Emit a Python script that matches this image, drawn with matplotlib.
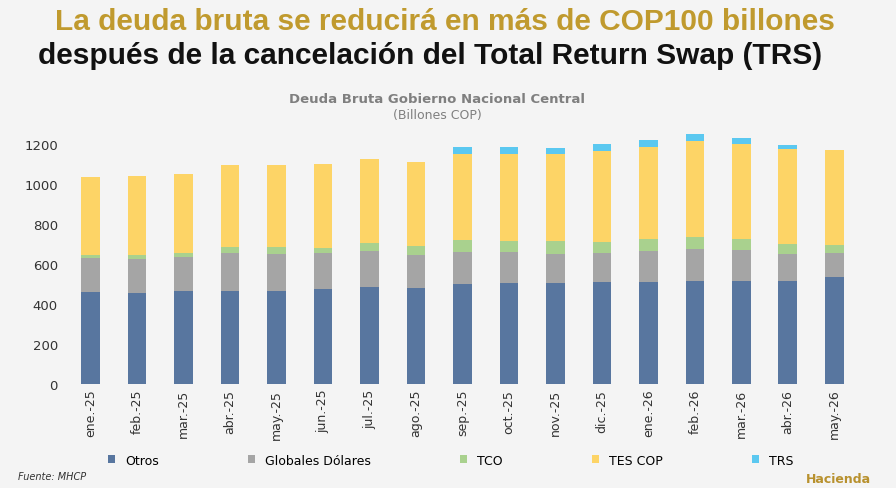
import matplotlib
matplotlib.use("Agg")
import matplotlib.pyplot as plt
import numpy as np

meses = ["ene.-25","feb.-25","mar.-25","abr.-25","may.-25","jun.-25","jul.-25","ago.-25","sep.-25",
         "oct.-25","nov.-25","dic.-25","ene.-26","feb.-26","mar.-26","abr.-26","may.-26"]
otros = [457,455,462,465,462,472,482,480,497,502,502,507,510,515,515,515,535]
globales = [171,167,170,190,185,180,183,165,160,158,145,145,155,160,155,135,117]
tco = [17,20,20,28,35,26,40,42,63,52,65,58,60,60,53,48,43]
tes = [391,398,398,410,411,420,420,423,427,435,435,453,457,478,477,475,475]
trs = [0,0,0,0,0,0,0,0,36,35,33,37,36,37,28,20,0]

series = [("Otros", otros, "#58769F"), ("Globales Dólares", globales, "#A5A5A5"),
          ("TCO", tco, "#A9D18E"), ("TES COP", tes, "#FDD466"), ("TRS", trs, "#5BC8F0")]

bg = "#F4F4F4"
fig = plt.figure(figsize=(8.96, 4.89), dpi=100, facecolor=bg)
ax = fig.add_axes([0.07, 0.213, 0.9, 0.532], facecolor=bg)
x = np.arange(len(meses))
bottom = np.zeros(len(meses))
for name, vals, col in series:
    v = np.array(vals, float)
    ax.bar(x, v, 0.4, bottom=bottom, color=col, label=name)
    bottom += v
ax.set_ylim(0, 1300)
ax.set_xlim(-0.6, len(meses) - 0.25)
ax.set_yticks(range(0, 1201, 200))
ax.set_xticks(x)
ax.set_xticklabels(meses, rotation=90, fontsize=9, color="#333333")
ax.tick_params(axis="y", labelsize=9.5, colors="#333333", length=0)
ax.tick_params(axis="x", length=0)
for s in ax.spines.values():
    s.set_visible(False)

leg = fig.legend(loc="center", bbox_to_anchor=(0.503, 0.057), ncol=5, frameon=False,
                 fontsize=9, handlelength=0.6, handleheight=0.6, columnspacing=7.1)

tf = "Liberation Sans"
fig.text(0.497, 0.955, "La deuda bruta se reducirá en más de COP100 billones", ha="center", va="center",
         fontsize=21.5, fontweight="bold", color="#C09A2E", family=tf)
fig.text(0.48, 0.885, "después de la cancelación del Total Return Swap (TRS)", ha="center", va="center",
         fontsize=21.5, fontweight="bold", color="#111111", family=tf)
fig.text(0.488, 0.797, "Deuda Bruta Gobierno Nacional Central", ha="center", va="center",
         fontsize=9.5, fontweight="bold", color="#7F7F7F")
fig.text(0.488, 0.763, "(Billones COP)", ha="center", va="center", fontsize=9, color="#7F7F7F")
fig.text(0.02, 0.018, "Fuente: MHCP", fontsize=7, style="italic", color="#333333")
fig.text(0.972, 0.012, "Hacienda", ha="right", fontsize=9, color="#B8912E", fontweight="bold")
fig.savefig("out.png", dpi=100, facecolor=bg)
